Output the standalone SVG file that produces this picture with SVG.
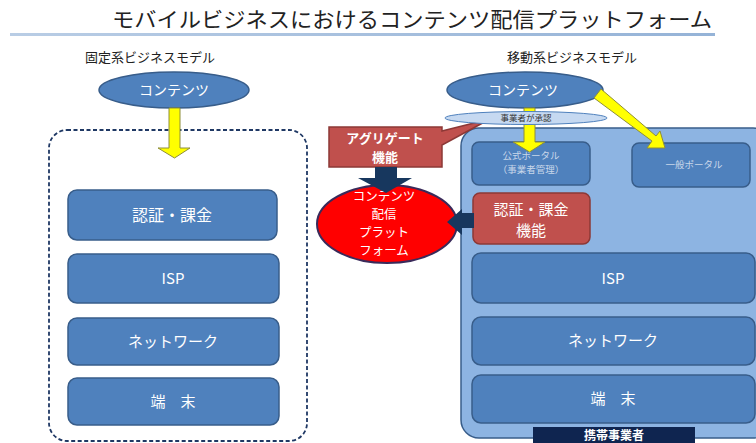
<svg xmlns="http://www.w3.org/2000/svg" width="756" height="443" viewBox="0 0 756 443">
<defs>
<linearGradient id="tl" x1="0" y1="0" x2="1" y2="0">
<stop offset="0" stop-color="#B9CDE5"/>
<stop offset="1" stop-color="#95B3D7"/>
</linearGradient>
</defs>
<style>
text{font-family:"Noto Sans CJK JP","Noto Sans",sans-serif;text-anchor:middle}
.box{fill:#4F81BD;stroke:#385D8A;stroke-width:1.5}
.red{fill:#C0504D;stroke:#8C3836;stroke-width:1.5}
.wt{fill:#FFFFFF;font-size:15px}
.hd{fill:#222;font-size:13px}
.yel{fill:#FFFF00;stroke:#8E8E3A;stroke-width:1}
.navy{fill:#17375E}
.pt{fill:#C9D7EA;font-size:9.5px}
.bl{fill:#FFFFFF;font-size:12.5px}
.ag{fill:#FFFFFF;font-size:13px;font-weight:bold}
</style>
<rect width="756" height="443" fill="#FFFFFF"/>
<g id="title">
<text x="412" y="27" font-size="21" fill="#222" textLength="600" lengthAdjust="spacingAndGlyphs">モバイルビジネスにおけるコンテンツ配信プラットフォーム</text>
<rect x="10" y="33" width="705" height="3" fill="url(#tl)"/>
</g>
<g id="fixed-header"><text class="hd" x="150" y="62">固定系ビジネスモデル</text></g>
<g id="mobile-header"><text class="hd" x="572" y="62">移動系ビジネスモデル</text></g>

<g id="fixed-frame"><rect x="49" y="130" width="258" height="311" rx="18" fill="none" stroke="#1F3864" stroke-width="1.8" stroke-dasharray="4,2.5"/></g>
<g id="mobile-frame"><rect x="461" y="128" width="310" height="310" rx="18" fill="#8DB4E2" stroke="#385D8A" stroke-width="1.5"/></g>

<g id="fixed-content"><ellipse cx="174" cy="90" rx="75" ry="18" class="box"/><text class="wt" x="174" y="95" style="font-size:14px">コンテンツ</text></g>
<g id="fixed-auth"><rect class="box" x="68" y="190" width="209" height="50" rx="9"/><text class="wt" x="172" y="221" style="font-size:16px">認証・課金</text></g>
<g id="fixed-isp"><rect class="box" x="68" y="254" width="211" height="49" rx="9"/><text class="wt" x="173" y="284">ISP</text></g>
<g id="fixed-network"><rect class="box" x="68" y="318" width="211" height="47" rx="9"/><text class="wt" x="173" y="347">ネットワーク</text></g>
<g id="fixed-terminal"><rect class="box" x="68" y="378" width="211" height="47" rx="9"/><text class="wt" x="173" y="407" xml:space="preserve">端　末</text></g>

<g id="mobile-content"><ellipse cx="525" cy="90" rx="78" ry="18" class="box"/><text class="wt" x="523" y="95" style="font-size:14px">コンテンツ</text></g>
<g id="official-portal"><rect class="box" x="472" y="142" width="118" height="43" rx="7"/><text class="pt" x="531" y="159">公式ポータル</text><text class="pt" x="531" y="173">（事業者管理）</text></g>
<g id="general-portal"><rect class="box" x="632" y="143" width="118" height="44" rx="7"/><text class="pt" x="694" y="168">一般ポータル</text></g>
<g id="mobile-auth"><rect class="red" x="473" y="193" width="117" height="51" rx="7"/><text class="wt" x="531" y="215" style="font-size:15px">認証・課金</text><text class="wt" x="531" y="236" style="font-size:15px">機能</text></g>
<g id="mobile-isp"><rect class="box" x="472" y="253" width="283" height="50" rx="9"/><text class="wt" x="613" y="284">ISP</text></g>
<g id="mobile-network"><rect class="box" x="472" y="317" width="283" height="48" rx="9"/><text class="wt" x="613" y="346">ネットワーク</text></g>
<g id="mobile-terminal"><rect class="box" x="472" y="375" width="283" height="48" rx="9"/><text class="wt" x="613" y="404" xml:space="preserve">端　末</text></g>
<g id="carrier-label"><rect x="533" y="427" width="162" height="17" fill="#0F2550"/><text x="614" y="439.5" font-size="12" font-weight="bold" fill="#FFFFFF">携帯事業者</text></g>

<g id="platform"><ellipse cx="387" cy="224" rx="70" ry="39" fill="#FF0000" stroke="#3A2A5A" stroke-width="2"/>
<text class="bl" x="384" y="201">コンテンツ</text>
<text class="bl" x="384" y="219">配信</text>
<text class="bl" x="384" y="237">プラット</text>
<text class="bl" x="384" y="255">フォーム</text></g>

<g id="aggregate"><path class="red" d="M329,127 H442 V131 L490,119 L442,145 V167 H329 Z"/><text class="ag" x="385" y="143">アグリゲート</text><text class="ag" x="385" y="162">機能</text></g>

<g id="connectors">
<path class="yel" d="M169,108 H180 V148 H190 L174.5,158 L158,148 H169 Z"/>
<path class="yel" d="M524,108 H535 V142 H545 L529.5,152 L513,142 H524 Z"/>
<path class="yel" d="M601,89 L594,98 L652,141 L647,148 L665,148 L660,131 L656,136 Z"/>
<path class="navy" d="M375,167 H397 V178 H412 L386,193 L358,178 H375 Z"/>
<path class="navy" d="M474,213 V228 H462 V235 L447,222 L462,209 V213 Z"/>
</g>

<g id="approval"><ellipse cx="526" cy="118" rx="81" ry="6.5" fill="#C6D9F1" stroke="#4F81BD" stroke-width="1"/><text x="526" y="121" font-size="8.5" fill="#333">事業者が承認</text></g>
</svg>
